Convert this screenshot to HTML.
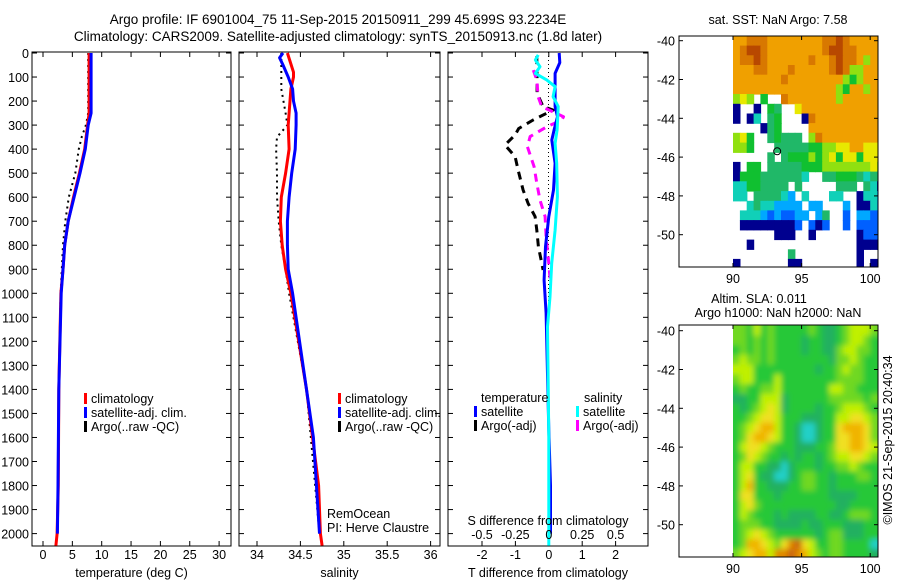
<!DOCTYPE html>
<html><head><meta charset="utf-8"><style>
html,body{margin:0;padding:0;background:#fff;}
svg{display:block;font-family:"Liberation Sans",sans-serif;}
text{font-size:12.5px;fill:#000;}
</style></head><body>
<svg id="fig" width="900" height="580" viewBox="0 0 900 580">
<defs><filter id="blur" x="-5%" y="-5%" width="110%" height="110%"><feGaussianBlur stdDeviation="3"/></filter></defs>
<text x="338" y="24" text-anchor="middle" style="font-size:13.5px">Argo profile: IF 6901004_75 11-Sep-2015 20150911_299 45.699S 93.2234E</text>
<text x="338" y="41" text-anchor="middle" style="font-size:13.5px">Climatology: CARS2009. Satellite-adjusted climatology: synTS_20150913.nc (1.8d later)</text>
<g id="g"></g>
</svg>
<script>
// ---------- data ----------
const depthTicks=[0,100,200,300,400,500,600,700,800,900,1000,1100,1200,1300,1400,1500,1600,1700,1800,1900,2000];
const tTicks=[0,5,10,15,20,25,30];
const sTicks=[34,34.5,35,35.5,36];
const dTTicks=[-2,-1,0,1,2];
const dSTicks=[-0.5,-0.25,0,0.25,0.5];
const dSTickLabels=["-0.5","-0.25","0","0.25","0.5"];
const latTicks=[-40,-42,-44,-46,-48,-50];
const lonTicks=[90,95,100];

const tClimDepth=[0,250,300,400,500,600,700,800,900,1000,1400,1800,2000,2050];
const tClim=[7.85,7.85,7.6,7.1,6.2,5.2,4.3,3.7,3.4,3.05,2.7,2.6,2.4,2.2];
const tSatDepth=[0,250,300,400,500,600,700,800,900,1000,1400,1800,2000];
const tSat=[8.2,8.2,7.7,7.2,6.3,5.3,4.3,3.7,3.4,3.1,2.7,2.55,2.45];
const tArgoDepth=[0,250,300,350,400,500,600,700,800,900,1000,1400,2000];
const tArgo=[7.7,7.7,7.3,6.6,6.1,5.5,4.4,3.8,3.4,3.2,3.0,2.7,2.45];

const sClimDepth=[0,80,100,150,300,400,500,600,700,800,900,1000,1400,1800,2000,2050];
const sClim=[34.35,34.42,34.42,34.39,34.36,34.37,34.33,34.28,34.27,34.29,34.33,34.39,34.57,34.71,34.73,34.75];
const sSatDepth=[0,20,50,100,150,200,250,300,400,500,600,700,800,900,1000,1400,1600,2000];
const sSat=[34.30,34.26,34.30,34.36,34.41,34.42,34.45,34.45,34.44,34.40,34.37,34.35,34.35,34.36,34.41,34.57,34.65,34.72];
const sArgoDepth=[0,100,150,250,300,350,400,500,600,700,800,900,1000,1400,2000];
const sArgo=[34.28,34.28,34.28,34.33,34.35,34.23,34.22,34.23,34.23,34.25,34.28,34.33,34.37,34.57,34.72];

const dTSatDepth=[0,40,85,154,223,265,320,362,459,570,681,806,945,1083,1570,1800,2000];
const dTSat=[0.31,0.33,0.19,0.19,0.19,0.26,0.16,0.09,0.19,0.14,0,-0.1,-0.14,-0.08,0,0.05,0.05];
const dSSatDepth=[8,29,57,85,112,140,182,223,320,376,459,598,737,875,1014,1139,1600,2050];
const dSSat=[-0.079,-0.10,-0.066,-0.10,-0.016,0.047,0.032,0.07,0.062,0.047,0.059,0.064,0.047,0.022,0.009,-0.01,0,0];
const dTArgoDepth=[13,112,168,223,237,279,314,341,383,431,487,570,626,681,737,806,861,903];
const dTArgo=[-0.36,-0.35,-0.35,-0.17,0.13,-0.47,-0.9,-1.01,-1.31,-1.01,-0.92,-0.77,-0.62,-0.41,-0.36,-0.31,-0.23,-0.17];
const dSArgoDepth=[71,112,182,223,265,279,307,348,390,473,542,612,681,764,875,945];
const dSArgo=[-0.116,-0.09,-0.08,-0.053,0.11,0.097,-0.016,-0.14,-0.16,-0.11,-0.09,-0.066,-0.028,-0.02,0,0.01];

const sstRows=["889998888888899a98888","89aa9888888889aa99888","899a98888889889a99868","888998889888889a96688","888888898888888865688","888888888888888658868","676.5..98888888688888","0..0.54..7888888888888","0.03.45...09888888888","....045....8888888888","675..45444.6988888888","665...44444556677887777",".....4.4555656757757777","0.55.444445556666666767","05554444443..4455543444","33554444.4.....444.4300","33.444432.3...33..03322","..34332222.22...2.00322",".3332121122.24..1.22111",".000000001.101..1.11111","......000..0......01111","..0...............00000","........4.........0....","0.......00........0.000"];
const sstColors={"0":"#00008f","1":"#0060ff","2":"#00a8ff","3":"#10d0b8","4":"#20b868","5":"#10c030","6":"#90e010","7":"#e8e800","8":"#f0a000","9":"#d87800","a":"#b84800"};
const slaRows=["443534333334322345554","443434333323322345543","343434333323322455443","454434333333332445433","555333333333233454433","455333533333333444433","343344533333335544333","223355523333334444434","323456523333233455543","334566533322233556654","345677533211233677764","346776533211233667764","356654333222334667765","346543323233234556654","355332212333233445433","356322112344332333443","357332223344332333333","366333233333332222333","356433333333333223333","354333232222332234443","344433222232233322233","345654333333234422233","347765468965334433331","456775889875434433332"];
const slaColors={"0":"#2090ff","1":"#20d0c8","2":"#20b060","3":"#28c838","4":"#70d820","5":"#c0f000","6":"#f0e020","7":"#f0b400","8":"#e08800","9":"#c86010"};

// ---------- helpers ----------
const NS="http://www.w3.org/2000/svg";
const G=document.getElementById('g');
function el(tag,attrs,parent){const e=document.createElementNS(NS,tag);for(const k in attrs)e.setAttribute(k,attrs[k]);(parent||G).appendChild(e);return e;}
function txt(x,y,s,anchor,parent){const t=el('text',{x:x,y:y,'text-anchor':anchor||'start'},parent);t.textContent=s;return t;}

const Y0=53, PXM=0.2403, TOP=52, BOT=546;
function yD(d){return Y0+d*PXM;}

function panel(name,x0,x1,xScale,ticks,tickLabels,xlabel){
  const g=el('g',{});
  
  
  const r=el('rect',{x:x0,y:TOP,width:x1-x0,height:BOT-TOP,fill:'none',stroke:'#000','stroke-width':1},g);
  
  
  ticks.forEach((v,i)=>{const x=xScale(v);
    el('line',{x1:x,x2:x,y1:TOP,y2:TOP+5,stroke:'#000'},g);
    el('line',{x1:x,x2:x,y1:BOT,y2:BOT-5,stroke:'#000'},g);
    const t=txt(x,559,tickLabels[i],'middle',g);
    
    
  });
  depthTicks.forEach(d=>{const y=yD(d);
    el('line',{x1:x0,x2:x0+5,y1:y,y2:y,stroke:'#000'},g);
    el('line',{x1:x1,x2:x1-5,y1:y,y2:y,stroke:'#000'},g);
  });
  if(xlabel){const t=txt((x0+x1)/2,577,xlabel,'middle',g);
    
    }
  return g;
}
function line(g,xs,ds,xScale,color,w,dash,name){
  const pts=xs.map((v,i)=>xScale(v).toFixed(1)+','+yD(ds[i]).toFixed(1)).join(' ');
  const p=el('polyline',{points:pts,fill:'none',stroke:color,'stroke-width':w,'stroke-dasharray':dash||'none','stroke-linejoin':'round'},g);
  
  
}
function legend(g,x,y,color,label){
  el('rect',{x:x,y:y-10,width:3,height:11,fill:color},g);
  const t=txt(x+7,y,label,'start',g);
  
  
}

depthTicks.forEach(d=>{const t=txt(29,yD(d)+5,String(d),'end');
  
  });

const xT=v=>43+v*5.87;
const p1=panel('temperature-panel',32,231,xT,tTicks,tTicks.map(String),'temperature (deg C)');
line(p1,tArgo,tArgoDepth,xT,'#000',2,'2,4','argo-temperature-line');
line(p1,tClim,tClimDepth,xT,'#f00',3,null,'climatology-temperature-line');
line(p1,tSat,tSatDepth,xT,'#00f',3,null,'satellite-temperature-line');
legend(p1,84,403,'#f00','climatology');
legend(p1,84,417,'#00f','satellite-adj. clim.');
legend(p1,84,431,'#000','Argo(..raw -QC)');

const xS=v=>257+(v-34)*86.8;
const p2=panel('salinity-panel',239,440,xS,sTicks,sTicks.map(String),'salinity');
line(p2,sArgo,sArgoDepth,xS,'#000',2,'2,4','argo-salinity-line');
line(p2,sClim,sClimDepth,xS,'#f00',3,null,'climatology-salinity-line');
line(p2,sSat,sSatDepth,xS,'#00f',3,null,'satellite-salinity-line');
legend(p2,338,403,'#f00','climatology');
legend(p2,338,417,'#00f','satellite-adj. clim.');
legend(p2,338,431,'#000','Argo(..raw -QC)');
txt(327,518,'RemOcean','start',p2);
txt(327,532,'PI: Herve Claustre','start',p2);

const xDT=v=>548.8+v*33.4;
const xDS=v=>548.8+v*133.6;
const p3=panel('difference-panel',448,648,xDT,dTTicks,dTTicks.map(String),'T difference from climatology');
el('line',{x1:548.5,x2:548.5,y1:TOP,y2:BOT,stroke:'#000','stroke-dasharray':'1,3'},p3);
line(p3,dTArgo,dTArgoDepth,xDT,'#000',3,'8,6','argo-temperature-diff-line');
line(p3,dSArgo,dSArgoDepth,xDS,'#f0f',3,'8,6','argo-salinity-diff-line');
line(p3,dTSat,dTSatDepth,xDT,'#00f',3,null,'satellite-temperature-diff-line');
line(p3,dSSat,dSSatDepth,xDS,'#0ff',3,null,'satellite-salinity-diff-line');
dSTicks.forEach((v,i)=>{const t=txt(xDS(v),539,dSTickLabels[i],'middle',p3);
  
  });
txt(548,525,'S difference from climatology','middle',p3);
txt(481,402,'temperature','start',p3);
txt(584,402,'salinity','start',p3);
legend(p3,474,416,'#00f','satellite');
legend(p3,474,430,'#000','Argo(-adj)');
legend(p3,576,416,'#0ff','satellite');
legend(p3,576,430,'#f0f','Argo(-adj)');

const MX0=679, MX1=878;
const xLon=v=>733+(v-90)*13.72;
function map(name,yTop,yBot,lat40,rows,colors,smooth){
  const yLat=v=>lat40+(-40-v)*19.4;
  const g=el('g',{});
  
  
  const cid='clip-'+name;
  const cp=el('clipPath',{id:cid},g);
  el('rect',{x:smooth?733:MX0,y:yTop,width:MX1-(smooth?733:MX0),height:yBot-yTop},cp);
  const outer=el('g',{'clip-path':'url(#'+cid+')'},g);
  const cells=el('g',smooth?{filter:'url(#blur)'}:{},outer);
  rows.forEach((row,ri)=>{
    for(let ci=0;ci<row.length;ci++){const c=row[ci]; if(c==='.')continue;
      const lon=90+ci*0.5, lat=-39.75-ri*0.5;
      const x=xLon(lon), y=yLat(lat);
      const ex=smooth?(ci===0?-8:0):0, ey=smooth?(ri===0?-8:0):0;
      const eh=smooth&&ri===rows.length-1?10:0, ew=smooth&&ci===row.length-1?10:0;
      const r=el('rect',{x:(x+ex).toFixed(1),y:(y+ey).toFixed(1),width:(7.46-ex+ew).toFixed(1),height:(10.3-ey+eh).toFixed(1),fill:colors[c]},cells);
      
      
    }
  });
  el('rect',{x:MX0,y:yTop,width:MX1-MX0,height:yBot-yTop,fill:'none',stroke:'#000'},g);
  latTicks.forEach(v=>{const y=yLat(v);
    el('line',{x1:MX0,x2:MX0+4,y1:y,y2:y,stroke:'#000'},g);
    el('line',{x1:MX1,x2:MX1-4,y1:y,y2:y,stroke:'#000'},g);
    const t=txt(675,y+5,String(v),'end',g);
    
    });
  lonTicks.forEach(v=>{const x=xLon(v);
    el('line',{x1:x,x2:x,y1:yBot,y2:yBot-4,stroke:'#000'},g);
    el('line',{x1:x,x2:x,y1:yTop,y2:yTop+4,stroke:'#000'},g);
    const t=txt(x,yBot+16,String(v),'middle',g);
    
    });
  return g;
}
const m1=map('sst-map',36,267,40.7,sstRows,sstColors,false);
el('circle',{cx:xLon(93.22),cy:40.7+5.7*19.4,r:3.5,fill:'none',stroke:'#000'},m1);
txt(778,24,'sat. SST: NaN Argo: 7.58','middle',m1);
const m2=map('sla-map',325,557,330.7,slaRows,slaColors,true);
txt(759,303,'Altim. SLA: 0.011','middle',m2);
txt(778,317,'Argo h1000: NaN h2000: NaN','middle',m2);
const cr=txt(0,0,'©IMOS 21-Sep-2015 20:40:34','middle');
cr.setAttribute('transform','translate(892,440) rotate(-90)');


</script>
</body></html>
